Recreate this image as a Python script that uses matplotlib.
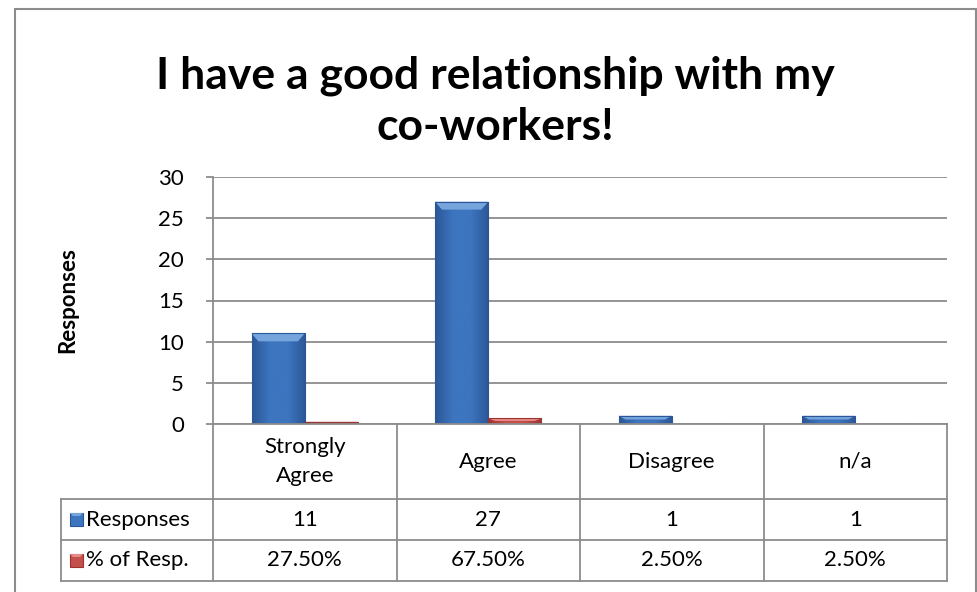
import numpy as np
import matplotlib
matplotlib.use("Agg")
import matplotlib.pyplot as plt
from matplotlib.patches import Rectangle, Polygon
from matplotlib.lines import Line2D
from matplotlib.colors import LinearSegmentedColormap
import matplotlib.transforms as mtransforms

# ---------------- data ----------------
categories = ["Strongly\nAgree", "Agree", "Disagree", "n/a"]
responses = [11, 27, 1, 1]
pct_resp = [0.275, 0.675, 0.025, 0.025]
pct_labels = ["27.50%", "67.50%", "2.50%", "2.50%"]
series_names = ["Responses", "% of Resp."]
yticks = [0, 5, 10, 15, 20, 25, 30]
title = "I have a good relationship with my\nco-workers!"
ylabel = "Responses"

plt.rcParams['font.family'] = ['Lato', 'DejaVu Sans']

W, H = 977, 592
fig = plt.figure(figsize=(W / 100, H / 100), dpi=100)


def fx(px):
    return px / W


def fy(py):
    return 1 - py / H


ax_l, ax_r, ax_t, ax_b = 213, 947, 177, 424
ax = fig.add_axes([fx(ax_l), fy(ax_b), (ax_r - ax_l) / W, (ax_b - ax_t) / H])

GRID = '#8C8C8C'
n = len(categories)
x = np.arange(n)
bw = 0.29

series_colors = [
    ('#2B5797', '#3D75BF', '#76A5DE'),
    ('#9C3431', '#C4504C', '#E88A87'),
]
yrange = yticks[-1] - yticks[0]


def bevel_bar(xc, h, cols):
    dark, base, light = cols
    x0, x1 = xc - bw / 2, xc + bw / 2
    if h <= 0:
        return
    rect = Rectangle((x0, 0), bw, h, facecolor=base, edgecolor='none', zorder=3)
    ax.add_patch(rect)
    cmap = LinearSegmentedColormap.from_list('g', [dark, base, base, dark])
    grad = np.linspace(0, 1, 64).reshape(1, -1)
    im = ax.imshow(grad, extent=[x0, x1, 0, h], aspect='auto', cmap=cmap,
                   interpolation='bicubic', zorder=3.1)
    im.set_clip_path(rect)
    # top bevel
    bh = min(yrange * 0.032, h * 0.45)
    dx = bw * 0.13
    top = Polygon([(x0, h), (x1, h), (x1 - dx, h - bh), (x0 + dx, h - bh)],
                  closed=True, facecolor=light, edgecolor='none', zorder=3.2)
    ax.add_patch(top)
    ax.add_patch(Rectangle((x0, 0), bw, h, facecolor='none', edgecolor=dark,
                           linewidth=0.8, zorder=3.3))


for i in range(n):
    bevel_bar(x[i] - bw / 2, responses[i], series_colors[0])
    bevel_bar(x[i] + bw / 2, pct_resp[i], series_colors[1])

ax.set_xlim(-0.5, n - 0.5)
ax.set_ylim(yticks[0], yticks[-1])
ax.set_yticks(yticks)
ax.set_yticklabels([str(t) for t in yticks])
ax.set_xticks([])
ax.yaxis.grid(True, color=GRID, linewidth=1.3)
ax.set_axisbelow(True)
for s in ['top', 'right', 'bottom']:
    ax.spines[s].set_visible(False)
ax.spines['left'].set_color(GRID)
ax.spines['left'].set_linewidth(1.3)
ax.tick_params(axis='y', length=5, width=1.3, color=GRID, labelsize=16,
               pad=16, labelcolor='black')

# ---------------- data table ----------------
def yf(py):
    return (ax_b - py) / (ax_b - ax_t)


rows_px = [424, 499, 540, 581]
left_px = 61
xl = (left_px - ax_l) / (ax_r - ax_l)
blend = mtransforms.blended_transform_factory(ax.transData, ax.transAxes)
lkw = dict(color=GRID, linewidth=1.3, clip_on=False, zorder=5)

# horizontal lines
ax.add_line(Line2D([-0.5, n - 0.5], [yf(rows_px[0])] * 2, transform=blend, **lkw))
for py in rows_px[1:]:
    ax.add_line(Line2D([xl, 1], [yf(py)] * 2, transform=ax.transAxes, **lkw))
# vertical lines
for b in np.arange(n + 1) - 0.5:
    ax.add_line(Line2D([b, b], [yf(rows_px[0]), yf(rows_px[-1])], transform=blend, **lkw))
ax.add_line(Line2D([xl, xl], [yf(rows_px[1]), yf(rows_px[-1])], transform=ax.transAxes, **lkw))

fs = 16
for i in range(n):
    ax.text(x[i], yf((rows_px[0] + rows_px[1]) / 2), categories[i], transform=blend,
            ha='center', va='center', fontsize=fs, linespacing=1.55, clip_on=False)
    ax.text(x[i], yf((rows_px[1] + rows_px[2]) / 2), str(responses[i]), transform=blend,
            ha='center', va='center', fontsize=fs, clip_on=False)
    ax.text(x[i], yf((rows_px[2] + rows_px[3]) / 2), pct_labels[i], transform=blend,
            ha='center', va='center', fontsize=fs, clip_on=False)

key_px = 13
for r, name in enumerate(series_names):
    cy = (rows_px[r + 1] + rows_px[r + 2]) / 2
    dark, base, light = series_colors[r]
    fig.patches.append(Rectangle((fx(70), fy(cy + key_px / 2)), key_px / W, key_px / H,
                                 transform=fig.transFigure, facecolor=base,
                                 edgecolor=dark, linewidth=0.8))
    fig.patches.append(Polygon([(fx(70), fy(cy - key_px / 2)), (fx(70 + key_px), fy(cy - key_px / 2)),
                                (fx(70 + key_px - 3), fy(cy - key_px / 2 + 3)),
                                (fx(73), fy(cy - key_px / 2 + 3))],
                               transform=fig.transFigure, facecolor=light, edgecolor='none'))
    fig.text(fx(86), fy(cy), name, ha='left', va='center', fontsize=fs)

# ---------------- title, label, frame ----------------
fig.text(fx(495), fy(101), title, ha='center', va='center', fontsize=32,
         fontweight='bold', linespacing=1.32)
fig.text(fx(68), fy(300), ylabel, ha='center', va='center', rotation=90,
         fontsize=16, fontweight='bold')

fig.patches.append(Rectangle((fx(15), fy(600)), (976 - 15) / W, (600 - 9) / H,
                             transform=fig.transFigure, facecolor='none',
                             edgecolor=GRID, linewidth=1.5))

fig.savefig('out.png', dpi=100)
